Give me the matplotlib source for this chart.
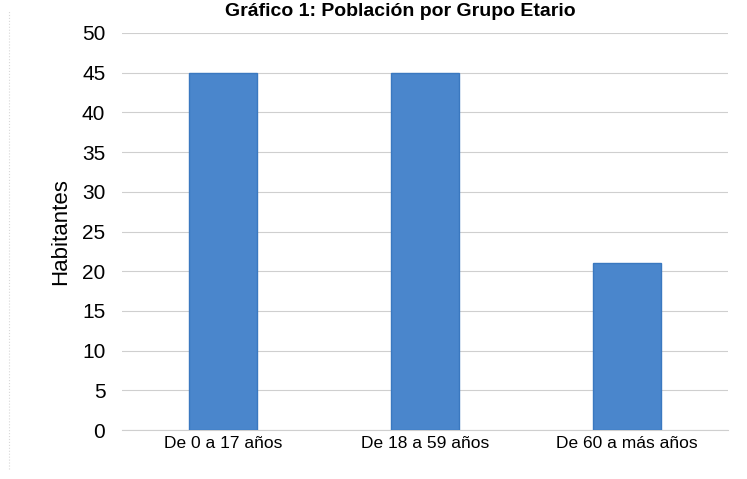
import matplotlib
matplotlib.use("Agg")
import matplotlib.pyplot as plt
from matplotlib import font_manager

categories = ["De 0 a 17 años", "De 18 a 59 años", "De 60 a más años"]
values = [45, 45, 21]
yticks = [0, 5, 10, 15, 20, 25, 30, 35, 40, 45, 50]
title = "Gráfico 1: Población por Grupo Etario"
ylabel = "Habitantes"

plt.rcParams['font.family'] = ["Liberation Sans", "DejaVu Sans"]

fig = plt.figure(figsize=(7.47, 4.79), dpi=100)
ax = fig.add_axes([122/747, 1 - 430/479, (728 - 122)/747, (430 - 33)/479])

x = range(len(categories))
ax.bar(x, values, width=0.335, color="#4a86cc", edgecolor="#3a78c0", linewidth=1, zorder=3)

ax.set_ylim(0, 50)
ax.set_xlim(-0.5, 2.5)
ax.set_yticks(yticks)
ax.set_yticklabels([str(t) for t in yticks], fontsize=15)
ax.set_xticks(list(x))
ax.set_xticklabels(categories, fontsize=12.5)
ax.tick_params(axis='x', length=0, pad=4)
ax.tick_params(axis='y', length=0, pad=12)
ax.yaxis.grid(True, color="#cfcfcf", linewidth=0.8, zorder=0)
for s in ax.spines.values():
    s.set_visible(False)
ax.spines['bottom'].set_visible(True)
ax.spines['bottom'].set_color("#cfcfcf")
ax.set_ylabel(ylabel, fontsize=16, labelpad=8)

fig.text(400/747, 1 - 12/479, title, ha='center', va='center', fontsize=14, fontweight='bold')
fig.add_artist(plt.Line2D([9/747, 9/747], [0.02, 0.98], color="#d8d8d8", linewidth=0.8, linestyle=':'))

fig.savefig("out.png", dpi=100)
